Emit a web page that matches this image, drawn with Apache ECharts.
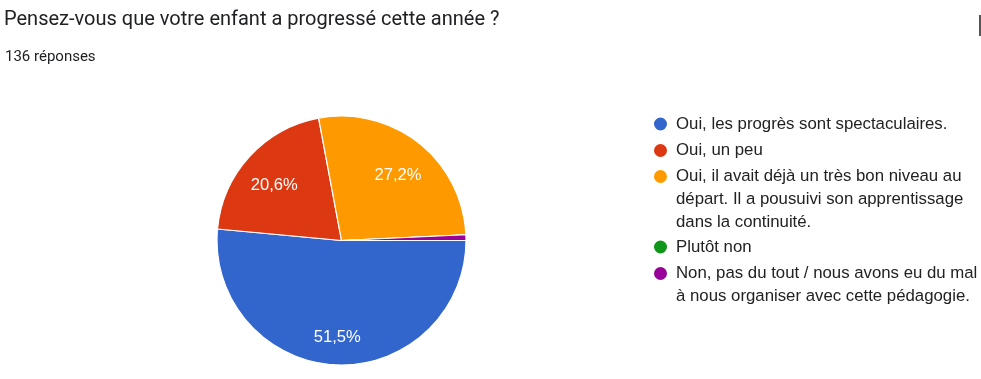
<!DOCTYPE html>
<html>
<head>
<meta charset="utf-8">
<script src="https://cdn.jsdelivr.net/npm/echarts@6/dist/echarts.min.js"></script>
<style>
html,body{margin:0;padding:0;background:#fff;}
#chart{width:981px;height:379px;}
</style>
</head>
<body>
<div id="chart"></div>
<script>
const titleText = 'Pensez-vous que votre enfant a progressé cette année ?';
const subtitleText = '136 réponses';
const categories = [
  'Oui, les progrès sont spectaculaires.',
  'Oui, un peu',
  'Oui, il avait déjà un très bon niveau au\ndépart. Il a pousuivi son apprentissage\ndans la continuité.',
  'Plutôt non',
  'Non, pas du tout / nous avons eu du mal\nà nous organiser avec cette pédagogie.'
];
const counts = [70, 28, 37, 0, 1];
const colors = ['#3366cc', '#dc3912', '#ff9900', '#109618', '#990099'];

const total = counts.reduce((a, b) => a + b, 0);
const pieData = categories.map((c, i) => ({ name: c, value: counts[i], itemStyle: { color: colors[i] } }));
const labelData = categories.map((c, i) => ({ name: c, value: counts[i] }));

const center = [341.5, 240.5];
const legendIconCenters = [124, 150.5, 176.5, 247, 273.5];
const LH = 23;
const legends = categories.map((c, i) => {
  const lines = c.split('\n');
  const n = lines.length;
  const totalLines = 2 * n - 1;
  const top = legendIconCenters[i] - totalLines * LH / 2;
  return {
    left: 652,
    top: top,
    orient: 'vertical',
    padding: 0,
    itemWidth: 15,
    itemHeight: 15,
    itemGap: 0,
    icon: 'circle',
    selectedMode: false,
    data: [c],
    formatter: function (name) {
      const ls = name.split('\n');
      const pre = [];
      for (let k = 1; k < ls.length; k++) pre.push('{e|}');
      return pre.concat(ls.map(l => '{t|' + l + '}')).join('\n');
    },
    textStyle: {
      fontFamily: 'Liberation Sans, Arial, sans-serif',
      fontSize: 16.8,
      lineHeight: LH,
      color: '#222222',
      rich: {
        t: { fontFamily: 'Liberation Sans, Arial, sans-serif', fontSize: 16.8, lineHeight: LH, color: '#222222', padding: [0, 0, 0, 3] },
        e: { fontFamily: 'Liberation Sans, Arial, sans-serif', fontSize: 16.8, lineHeight: LH, height: LH }
      }
    }
  };
});

const chart = echarts.init(document.getElementById('chart'), null, { renderer: 'canvas' });
chart.setOption({
  animation: false,
  backgroundColor: '#ffffff',
  title: [
    { text: titleText, left: 4, top: 10, padding: 0,
      textStyle: { fontFamily: 'Roboto, sans-serif', fontSize: 20, fontWeight: 'normal', color: '#202124' } },
    { text: subtitleText, left: 5, top: 50, padding: 0,
      textStyle: { fontFamily: 'Roboto, sans-serif', fontSize: 15, fontWeight: 'normal', color: '#202124' } }
  ],
  legend: legends,
  graphic: [
    { type: 'rect', shape: { x: 979, y: 15, width: 2, height: 21 }, style: { fill: '#555555' }, silent: true }
  ],
  series: [
    {
      type: 'pie',
      center: center,
      radius: [0, 124.5],
      startAngle: 0,
      clockwise: true,
      label: { show: false },
      labelLine: { show: false },
      emphasis: { disabled: true },
      itemStyle: { borderColor: '#ffffff', borderWidth: 1.2 },
      data: pieData
    },
    {
      type: 'pie',
      center: center,
      radius: [0, 176],
      startAngle: 0,
      clockwise: true,
      silent: true,
      emphasis: { disabled: true },
      itemStyle: { color: 'rgba(0,0,0,0)', borderWidth: 0 },
      labelLine: { show: false },
      label: {
        show: true,
        position: 'inside',
        offset: [0, 6],
        color: '#ffffff',
        fontFamily: 'Liberation Sans, Arial, sans-serif',
        fontSize: 16.6,
        textBorderWidth: 0,
        formatter: function (p) {
          const pct = p.value / total * 100;
          if (pct < 5) return '';
          return pct.toFixed(1).replace('.', ',') + '%';
        }
      },
      data: labelData
    }
  ]
});
</script>
</body>
</html>
